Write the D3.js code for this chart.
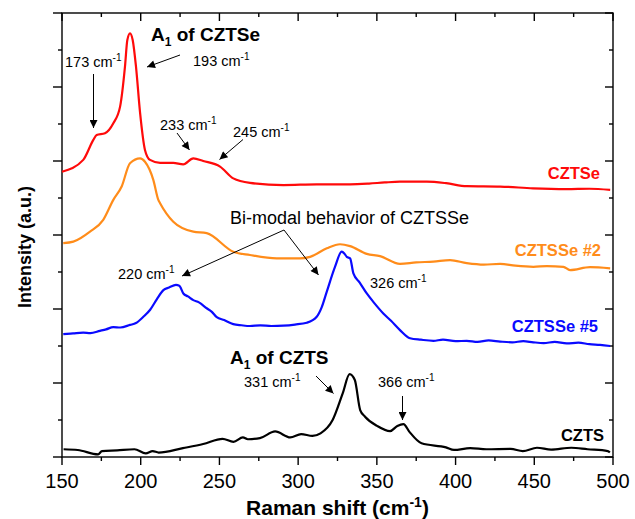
<!DOCTYPE html>
<html><head><meta charset="utf-8">
<script src="https://cdn.jsdelivr.net/npm/d3@7"></script>
<style>body{margin:0;background:#fff}svg{display:block}text{font-family:"Liberation Sans",Arial,sans-serif}</style>
</head><body><svg id="c" width="635" height="519"></svg>
<script>
// ---- data (Raman shift in cm^-1, intensity in arbitrary stacked units) ----
const czteShift = [150,163.5,169.9,172,177.3,182.6,186.9,190,191.5,193.2,194.9,197,199.6,202.7,205.9,212.3,220.7,227,233.4,239.7,250.4,258.8,269.4,290.6,311.8,333,345,355,364.7,381.7,394,407.1,428.3,449.2,470.6,485,498.2];
const czteInt   = [7.71,8.03,8.57,8.70,8.75,9.02,9.47,10.55,11.27,11.45,11.27,10.55,9.30,8.30,8.03,7.95,7.95,7.91,8.07,8.00,7.85,7.53,7.41,7.35,7.37,7.37,7.39,7.42,7.44,7.44,7.40,7.32,7.31,7.26,7.24,7.25,7.22];

const ss2Shift = [150.8,157.2,167.8,176.2,182.6,187.9,193.2,199.6,202.7,208,211.2,212.3,220.7,233.4,241.9,258.8,269.4,286.4,301.2,307.6,318.2,326.6,333,343.6,352,364.7,375,385.9,396.5,407.1,418,428.3,438,449.4,458,468.5,472.7,485.4,498.2];
const ss2Int   = [5.78,5.82,6.09,6.41,6.95,7.31,7.94,8.07,7.98,7.49,6.95,6.86,6.36,6.09,6.05,5.55,5.46,5.37,5.37,5.41,5.64,5.75,5.70,5.49,5.43,5.22,5.26,5.28,5.32,5.24,5.20,5.22,5.17,5.14,5.16,5.14,5.05,5.13,5.10];

const ss5Shift = [150.8,157,163.5,168,174.1,178,182.6,187,193.2,197,201.7,206,210.2,214.4,218,222.4,224.5,227.1,230,233.4,237,241.9,245,248.3,253,258.8,264,269.4,276,283,290.6,298,305.5,311.8,315,318.2,323.4,327.7,329.5,330.9,333,335.1,339,343.6,348,354.1,359,364.7,371.1,378,385.9,392,400,407.1,414,421,428.3,436,443,449.4,456,463,470.6,478,485,491.8,498.2];
const ss5Int   = [3.32,3.34,3.36,3.35,3.41,3.45,3.51,3.50,3.57,3.62,3.79,3.98,4.26,4.51,4.58,4.65,4.63,4.42,4.34,4.24,4.18,4.02,3.93,3.78,3.70,3.59,3.56,3.54,3.56,3.54,3.55,3.58,3.63,3.79,4.05,4.47,5.14,5.55,5.49,5.41,5.37,4.96,4.72,4.42,4.18,3.88,3.68,3.43,3.21,3.17,3.14,3.17,3.13,3.14,3.11,3.15,3.12,3.10,3.13,3.10,3.08,3.11,3.07,3.09,3.05,3.03,3.00];

const cztsShift = [151,160,172.9,175.4,185,196,203.2,207.6,211.4,226.8,239.7,252,258.9,264.9,268,275.7,285.4,295,301.9,309.1,314.2,321.9,328.3,332.7,336,339.4,342.5,350.2,358.4,363,366.9,370.7,378.4,393.9,399,409.3,419.6,435,442.7,451.7,460.7,473.5,483.8,496.7,498];
const cztsInt   = [0.21,0.19,0.07,0.16,0.18,0.21,0.10,0.16,0.12,0.24,0.35,0.49,0.41,0.53,0.48,0.51,0.69,0.53,0.62,0.57,0.64,1.00,1.72,2.24,2.08,1.27,1.09,0.84,0.70,0.84,0.89,0.68,0.37,0.26,0.19,0.24,0.21,0.22,0.16,0.25,0.20,0.25,0.21,0.16,0.12];

const xTicks = [150,200,250,300,350,400,450,500];
const seriesNames = ["CZTSe","CZTSSe #2","CZTSSe #5","CZTS"];
const seriesColors = ["#ff0a0a","#ff8c1a","#0a0aff","#000000"];

// ---- layout ----
const svg = d3.select("#c");
const L = 62, R = 613, T = 13, B = 457;
const x = d3.scaleLinear().domain([150,500]).range([L,R]);
const y = d3.scaleLinear().domain([0,12]).range([B,T]);
const minorX = d3.range(175,500,50);
const yMajor = d3.range(0,13,2), yMinor = d3.range(1,12,2);

const axG = svg.append("g").attr("stroke","#000").attr("stroke-width",1.4);
xTicks.forEach(v=>{ axG.append("line").attr("x1",x(v)).attr("x2",x(v)).attr("y1",B).attr("y2",B+8);
                    axG.append("line").attr("x1",x(v)).attr("x2",x(v)).attr("y1",T).attr("y2",T+8);});
minorX.forEach(v=>{ axG.append("line").attr("x1",x(v)).attr("x2",x(v)).attr("y1",B).attr("y2",B+4);
                    axG.append("line").attr("x1",x(v)).attr("x2",x(v)).attr("y1",T).attr("y2",T+4);});
yMajor.forEach(v=>{ axG.append("line").attr("x1",L-9).attr("x2",L).attr("y1",y(v)).attr("y2",y(v));
                    axG.append("line").attr("x1",R).attr("x2",R-8).attr("y1",y(v)).attr("y2",y(v));});
yMinor.forEach(v=>{ axG.append("line").attr("x1",L-4).attr("x2",L).attr("y1",y(v)).attr("y2",y(v));
                    axG.append("line").attr("x1",R).attr("x2",R-4).attr("y1",y(v)).attr("y2",y(v));});
axG.append("rect").attr("x",L).attr("y",T).attr("width",R-L).attr("height",B-T).attr("fill","none");

svg.append("g").selectAll("text").data(xTicks).join("text")
  .attr("x",d=>x(d)).attr("y",488).attr("text-anchor","middle").attr("font-size",20).text(d=>d);

// axis titles
const xt = svg.append("text").attr("x",(L+R)/2).attr("y",515).attr("text-anchor","middle")
  .attr("font-size",21).attr("font-weight","bold");
xt.append("tspan").text("Raman shift (cm");
xt.append("tspan").attr("font-size",14).attr("dy",-8).text("-1");
xt.append("tspan").attr("dy",8).text(")");
svg.append("text").attr("transform","translate(31,247) rotate(-90)").attr("text-anchor","middle")
  .attr("font-size",18).attr("font-weight","bold").text("Intensity (a.u.)");

// ---- curves ----
const line = d3.line().x(d=>x(d[0])).y(d=>y(d[1])).curve(d3.curveMonotoneX);
const sets = [[czteShift,czteInt],[ss2Shift,ss2Int],[ss5Shift,ss5Int],[cztsShift,cztsInt]];
sets.forEach((s,i)=>{
  svg.append("path").datum(d3.zip(s[0],s[1])).attr("d",line).attr("fill","none")
    .attr("stroke",seriesColors[i]).attr("stroke-width",2.2).attr("stroke-linejoin","round");
});

// series labels
const labPos = [[600,179],[601,256],[598,332],[604,441]];
seriesNames.forEach((n,i)=>{
  svg.append("text").attr("x",labPos[i][0]).attr("y",labPos[i][1]).attr("text-anchor","end")
    .attr("font-size",16.5).attr("font-weight","bold").attr("fill",seriesColors[i]).text(n);
});

// ---- annotations ----
svg.append("defs").append("marker").attr("id","ah").attr("viewBox","0 0 10 10").attr("refX",10).attr("refY",5)
  .attr("markerWidth",10).attr("markerHeight",8).attr("markerUnits","userSpaceOnUse").attr("orient","auto")
  .append("path").attr("d","M0,0 L10,5 L0,10 z").attr("fill","#000");

function wn(xp, yp, num){
  const t = svg.append("text").attr("x",xp).attr("y",yp).attr("font-size",14.5).attr("fill","#000");
  t.append("tspan").text(num+" cm");
  t.append("tspan").attr("font-size",10).attr("dy",-6).text("-1");
}
function arrow(x1,y1,x2,y2){
  svg.append("line").attr("x1",x1).attr("y1",y1).attr("x2",x2).attr("y2",y2)
    .attr("stroke","#000").attr("stroke-width",1).attr("marker-end","url(#ah)");
}
function title(xp, yp, rest){
  const t = svg.append("text").attr("x",xp).attr("y",yp).attr("font-size",19).attr("font-weight","bold");
  t.append("tspan").text("A");
  t.append("tspan").attr("font-size",12).attr("dy",5).text("1");
  t.append("tspan").attr("dy",-5).text(" of "+rest);
}
title(151,41,"CZTSe");
wn(65,67,"173"); arrow(93.5,74,93.5,128);
wn(193,66,"193"); arrow(180,55,147,67);
wn(160,130,"233"); arrow(177,133,189.5,150);
wn(233,137,"245"); arrow(243,139.5,219.5,159.5);

svg.append("text").attr("x",230).attr("y",224).attr("font-size",18).text("Bi-modal behavior of CZTSSe");
arrow(284,230,182,276);
arrow(284,230,318.5,275);
wn(118,279,"220");
wn(370,288,"326");

title(230,364,"CZTS");
wn(244,387,"331"); arrow(316,376,333.5,393.5);
wn(378,387,"366"); arrow(402.5,396,402.5,420);
</script></body></html>
